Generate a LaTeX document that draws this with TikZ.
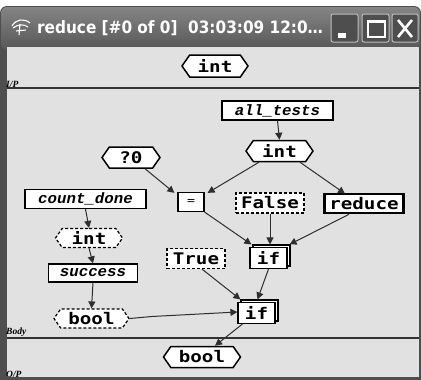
\documentclass[tikz,border=0pt]{standalone}
\usepackage{fontspec}
\usetikzlibrary{shapes.symbols,arrows.meta,calc}
\newfontfamily\lblfont[FakeStretch=1.2]{DejaVu Sans Mono}
\newfontfamily\fnfont[FakeStretch=1.05]{Liberation Mono}
\newfontfamily\ttlfont{DejaVu Sans Condensed}
\newfontfamily\tinyfont{Liberation Serif}
\definecolor{wdark}{HTML}{4E4E4E}
\definecolor{cbg}{HTML}{E1E1E1}
\definecolor{lnc}{HTML}{2E2E2E}
\definecolor{btnb}{HTML}{BDBDBD}
\tikzset{
  hexbox/.style={signal, signal to=east and west, signal pointer angle=110,
    draw=black, fill=white, line width=1.5pt, inner sep=1pt,
    font=\lblfont\bfseries\fontsize{16}{16}\selectfont},
  dhexbox/.style={hexbox, dash pattern=on 3pt off 2pt, line width=1.2pt},
  fnbox/.style={rectangle, draw=black, fill=white, line width=1.3pt, inner sep=1pt,
    font=\fnfont\bfseries\itshape\fontsize{15}{15}\selectfont},
  constbox/.style={rectangle, draw=black, fill=white, line width=1.2pt, inner sep=1pt,
    dash pattern=on 3pt off 2pt, font=\lblfont\bfseries\fontsize{16}{16}\selectfont},
  opbox/.style={rectangle, draw=black, fill=white, line width=1.2pt, inner sep=1pt,
    font=\lblfont\bfseries\fontsize{16}{16}\selectfont},
  backbox/.style={rectangle, draw=black, fill=white, line width=1.1pt, inner sep=0pt},
  conn/.style={draw=lnc, line width=1pt, -{Triangle[length=7pt,width=7pt]}},
  tinylbl/.style={font=\tinyfont\bfseries\itshape\fontsize{9.5}{9.5}\selectfont, inner sep=0pt},
  winbtn/.style={draw=btnb, fill=wdark, line width=1pt, rounded corners=2pt}
}
\begin{document}
\begin{tikzpicture}[x=1pt,y=-1pt]
\useasboundingbox (0,0) rectangle (421,380);
\fill[white] (0,0) rectangle (421,380);
% window frame
\fill[wdark] (0,380) {[rounded corners=7pt] -- (0,6) -- (421,6)} -- (421,380) -- cycle;
\shade[top color=black!48, bottom color=black!66, rounded corners=6pt] (1,7) rectangle (420,50);
\fill[cbg] (7,47) rectangle (419,377);
% title
\node[anchor=west, text=white, inner sep=0pt, font=\ttlfont\bfseries\fontsize{17}{17}\selectfont] (ttl) at (37,28) {reduce [\#0 of 0]\ \ 03:03:09 12:0\dots};
% icon
\draw[white, line width=1.1pt] (12,26) .. controls (16,19) and (24,18) .. (30,23);
\draw[white, line width=1.1pt] (13,28) .. controls (18,24) and (24,24) .. (28,27);
\draw[white, line width=1.1pt] (20,24) -- (19,35);
\draw[white, line width=1.1pt] (16,31) -- (26,30);
% buttons
\draw[winbtn] (331,14) rectangle (358,42);
\fill[white] (338,33) rectangle (346,38);
\draw[winbtn] (362,14) rectangle (389,42);
\draw[white, line width=1.2pt] (368,21) rectangle (385,37);
\draw[white, line width=2.5pt] (368,21.5) -- (385,21.5);
\draw[winbtn] (392,14) rectangle (418,42);
\draw[white, line width=2.6pt] (398,20) -- (412,37) (412,20) -- (398,37);
% separators
\draw[black!80, line width=1.3pt] (7,88) -- (419,88);
\draw[black!80, line width=1.3pt] (7,338) -- (419,338);
\node[tinylbl, anchor=south west] (ipl) at (6,88) {I/P};
\node[tinylbl, anchor=south west] (bodyl) at (6,337) {Body};
\node[tinylbl, anchor=south west] (opl) at (6,378) {O/P};
% nodes
\node[hexbox, minimum width=66pt, minimum height=22pt] (inT) at (215,66) {int};
\node[fnbox, minimum width=111pt, minimum height=19pt] (allt) at (277.5,110.5) {all\_tests};
\node[hexbox, minimum width=67pt, minimum height=21pt] (int2) at (279.5,151) {int};
\node[hexbox, minimum width=58pt, minimum height=21pt] (q0) at (131,157.5) {?0};
\node[opbox, minimum width=26pt, minimum height=19pt, font=\lblfont\fontsize{11}{11}\selectfont] (eq) at (191,202) {=};
\node[constbox, minimum width=68pt, minimum height=20pt] (fls) at (270,203) {False};
\node[opbox, line width=2.6pt, minimum width=79pt, minimum height=19pt] (red) at (364,203.5) {reduce};
\node[fnbox, minimum width=121pt, minimum height=19pt] (cnt) at (85.5,199) {count\_done};
\node[dhexbox, minimum width=67pt, minimum height=19pt] (int3) at (89,238) {int};
\node[fnbox, minimum width=89pt, minimum height=18pt] (succ) at (93,273) {success};
\node[dhexbox, minimum width=75pt, minimum height=19pt] (bool3) at (91.5,318.5) {bool};
\node[constbox, minimum width=58pt, minimum height=20pt] (tru) at (196,258.5) {True};
\node[backbox, minimum width=37pt, minimum height=21pt] (if1b) at (271.5,255.5) {};
\node[opbox, minimum width=37pt, minimum height=21pt] (if1) at (268.5,258) {if};
\node[backbox, minimum width=37pt, minimum height=21pt] (if2b) at (259.5,310.5) {};
\node[opbox, minimum width=37pt, minimum height=21pt] (if2) at (256.5,313) {if};
\node[hexbox, minimum width=77pt, minimum height=21pt] (outB) at (202,357) {bool};
% connectors
\draw[conn] (allt.south) -- (int2.north);
\draw[conn] ([xshift=6pt]int2.south west) -- ([xshift=3pt,yshift=-1pt]eq.north east);
\draw[conn] ([xshift=-6pt]int2.south east) -- ([xshift=-19pt,yshift=-1pt]red.north);
\draw[conn] ([xshift=-8pt]q0.south east) -- ([xshift=-3pt,yshift=-1pt]eq.north west);
\draw[conn] (eq.south east) -- ([xshift=2pt]if1.west |- if1b.north);
\draw[conn] (fls.south) -- (fls.south |- if1b.north);
\draw[conn] ([xshift=-15pt]red.south) -- ([xshift=-1pt]if1b.north east);
\draw[conn] (cnt.south) -- (int3.north);
\draw[conn] (int3.south) -- (succ.north);
\draw[conn] (succ.south) -- (bool3.north);
\draw[conn] (bool3.east) -- ++(22pt,2pt) -- ([yshift=1pt]if2.west);
\draw[conn] ([xshift=6pt]tru.south) -- ([xshift=3pt]if2.west |- if2b.north);
\draw[conn] (if1.south) -- ([xshift=1pt]if2.north |- if2b.north);
\draw[conn] ([xshift=5pt]if2.south west) -- ([xshift=13pt]outB.north);
\end{tikzpicture}
\end{document}
